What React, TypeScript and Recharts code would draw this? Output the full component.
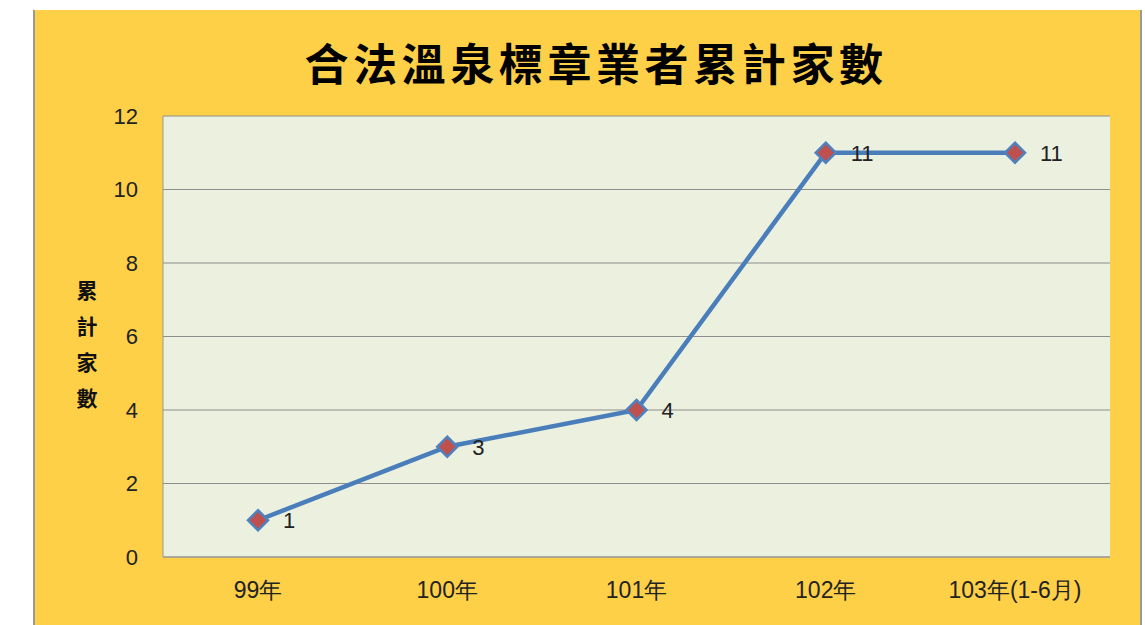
import { LineChart, Line, XAxis, YAxis, CartesianGrid, LabelList } from 'recharts';

const categories = ['99年', '100年', '101年', '102年', '103年(1-6月)'];
const cumulative = [1, 3, 4, 11, 11];
const yTicks = [0, 2, 4, 6, 8, 10, 12];
const title = '合法溫泉標章業者累計家數';
const yLabel = '累計家數';

const data = categories.map((year, i) => ({ year, value: cumulative[i] }));

const tickFont = { fontFamily: '"Liberation Sans", Arial, sans-serif', fontSize: 22, fill: '#222' };
const xTickFont = { ...tickFont, fontSize: 23 };

function Diamond(props: any) {
  const { cx, cy } = props;
  if (cx == null || cy == null) return null;
  const r = 10;
  return (
    <polygon
      points={`${cx},${cy - r} ${cx + r},${cy} ${cx},${cy + r} ${cx - r},${cy}`}
      fill="#C0504D"
      stroke="#4F81BD"
      strokeWidth={2.5}
    />
  );
}

function VerticalLabel() {
  return (
    <text
      x={87}
      y={290}
      textAnchor="middle"
      style={{ fontFamily: '"Noto Sans CJK TC", sans-serif', fontWeight: 700, fontSize: 21, fill: '#111' }}
    >
      {yLabel.split('').map((ch, i) => (
        <tspan key={i} x={87} dy={i === 0 ? 8 : 36}>
          {ch}
        </tspan>
      ))}
    </text>
  );
}

export default function App() {
  return (
    <div style={{ position: 'fixed', left: 0, top: 0, width: 1145, height: 625, background: '#fff', overflow: 'hidden' }}>
      <div
        style={{
          position: 'absolute',
          left: 33,
          top: 10,
          width: 1105,
          height: 620,
          background: '#FDD048',
          borderLeft: '2px solid #999',
          borderRight: '2px solid #999',
        }}
      />
      <div
        style={{
          position: 'absolute',
          left: 0,
          width: 1192,
          top: 36,
          textAlign: 'center',
          fontFamily: '"Noto Sans CJK TC", sans-serif',
          fontWeight: 700,
          fontSize: 44,
          letterSpacing: 4.6,
          lineHeight: '52px',
          color: '#000',
        }}
      >
        {title}
      </div>
      <div style={{ position: 'absolute', left: 0, top: 0 }}>
        <LineChart width={1145} height={625} data={data} margin={{ top: 116, right: 35, bottom: 0, left: 0 }}>
          <CartesianGrid vertical={false} stroke="#8E8E8E" fill="#EBF0DF" />
          <XAxis
            dataKey="year"
            height={68}
            padding={{ left: 95, right: 95 }}
            tickLine={false}
            tickSize={0}
            tickMargin={25}
            axisLine={{ stroke: '#999' }}
            tick={xTickFont}
          />
          <YAxis
            width={163}
            domain={[0, 12]}
            ticks={yTicks}
            tickLine={false}
            tickSize={0}
            tickMargin={25}
            axisLine={{ stroke: '#999' }}
            tick={tickFont}
            label={{ content: <VerticalLabel /> }}
          />
          <Line
            type="linear"
            dataKey="value"
            stroke="#4A7EBB"
            strokeWidth={4.5}
            dot={<Diamond />}
            activeDot={false}
            isAnimationActive={false}
          >
            <LabelList dataKey="value" position="right" offset={25} style={tickFont} />
          </Line>
        </LineChart>
      </div>
    </div>
  );
}
